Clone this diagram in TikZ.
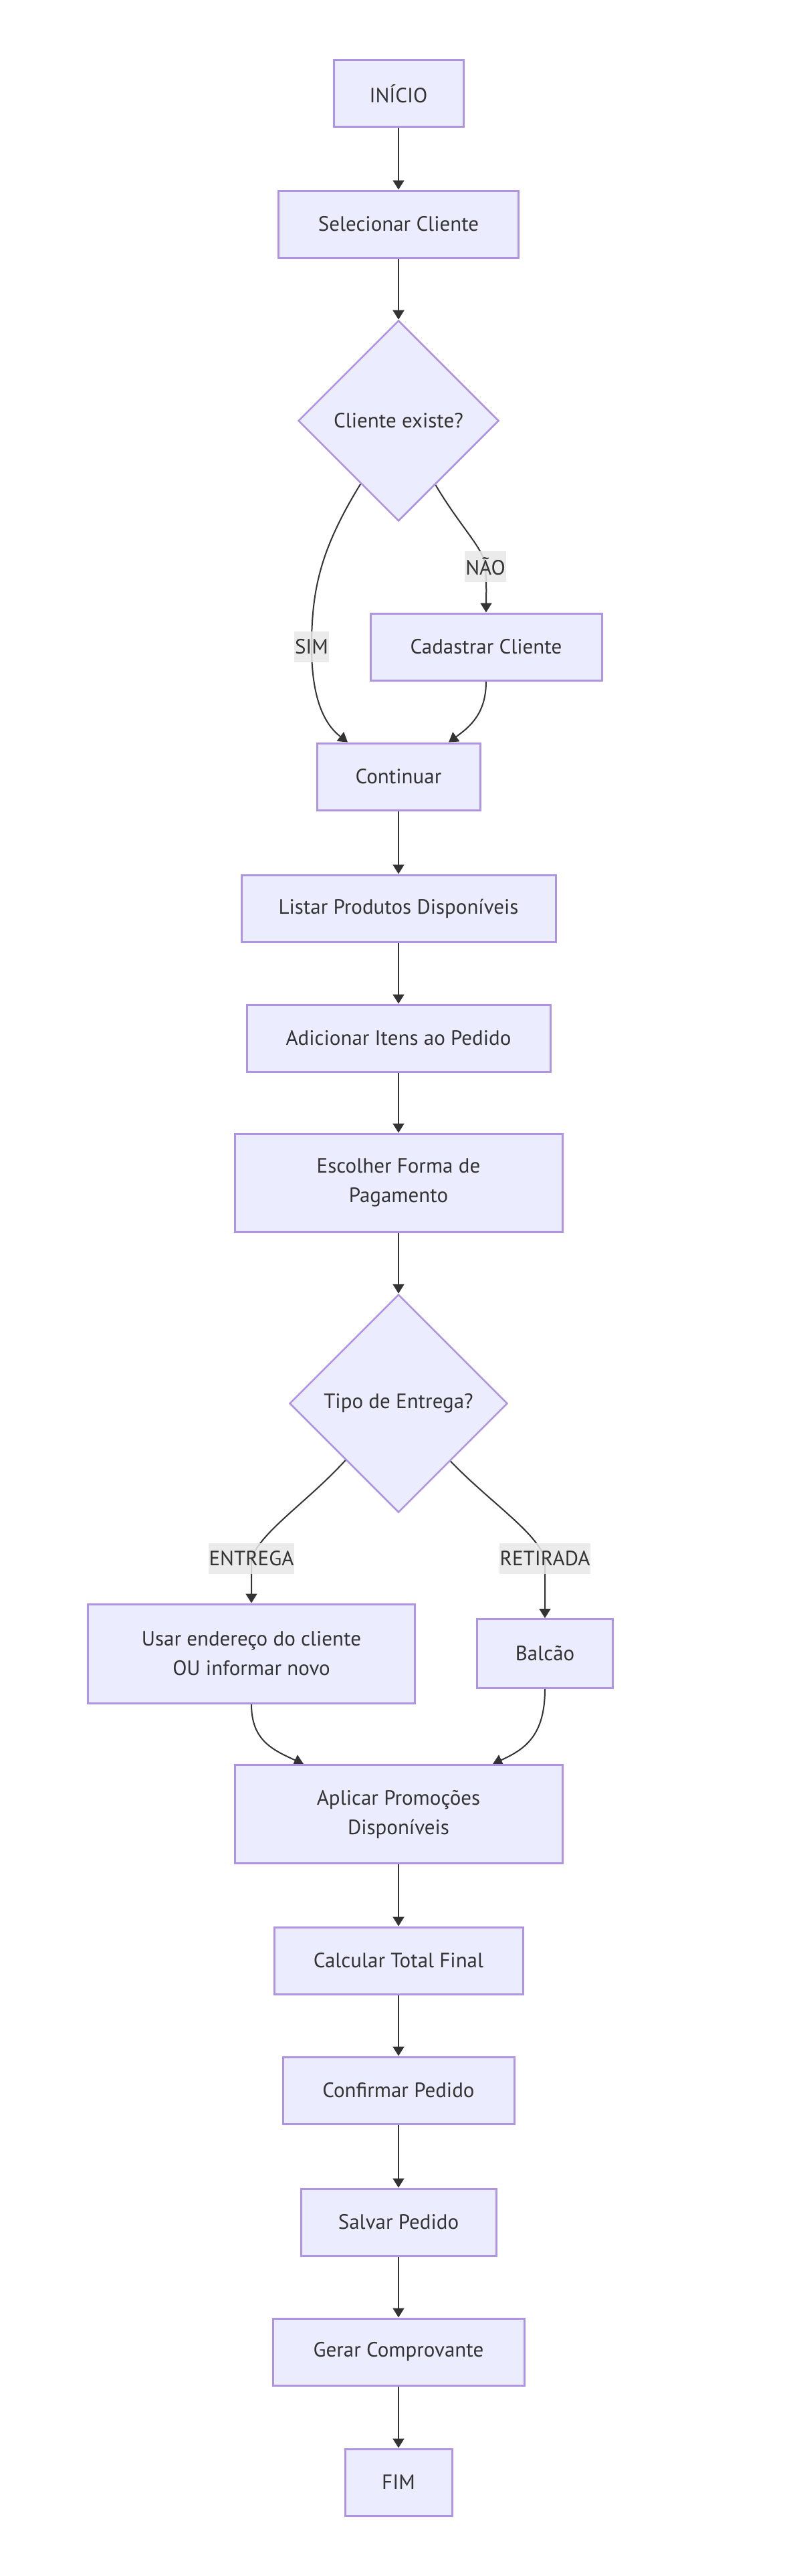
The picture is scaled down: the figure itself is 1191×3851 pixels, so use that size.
\documentclass[tikz,border=0pt]{standalone}
\usepackage{fontspec}
\setmainfont{PT Sans}
\usetikzlibrary{shapes.geometric,arrows.meta}
\definecolor{boxfill}{HTML}{ECECFF}
\definecolor{boxdraw}{HTML}{AE94E2}
\definecolor{txt}{HTML}{333333}
\definecolor{lblbg}{HTML}{E8E8E8}
\pgfdeclarelayer{bg}
\pgfsetlayers{bg,main}
\begin{document}
\begin{tikzpicture}[x=1pt,y=-1pt,
  box/.style={rectangle, draw=boxdraw, fill=boxfill, line width=3pt, text=txt,
    minimum height=100pt, align=center, inner sep=0pt, font=\fontsize{31}{44}\selectfont},
  dec/.style={diamond, aspect=1, draw=boxdraw, fill=boxfill, line width=2.5pt, text=txt,
    inner sep=0pt, font=\fontsize{31}{44}\selectfont},
  lbl/.style={fill=lblbg, fill opacity=0.85, text opacity=1, text=txt, inner xsep=1pt,
    inner ysep=0pt, minimum height=46pt, font=\fontsize{31}{44}\selectfont},
  edge/.style={draw=txt, line width=2pt, -{Triangle[length=14pt,width=17pt]}}]
\useasboundingbox (0,0) rectangle (1191,3851);
% nodes
\node[box, minimum width=194pt] (ini) at (596,140) {INÍCIO};
\node[box, minimum width=359pt] (sel) at (596,335) {Selecionar Cliente};
\node[dec, minimum width=300pt, minimum height=300pt] (d1) at (596,629) {Cliente existe?};
\node[box, minimum width=346pt] (cad) at (727,967) {Cadastrar Cliente};
\node[box, minimum width=244pt] (cont) at (596,1161) {Continuar};
\node[box, minimum width=470pt] (lst) at (596,1358) {Listar Produtos Disponíveis};
\node[box, minimum width=454pt] (add) at (596,1552) {Adicionar Itens ao Pedido};
\node[box, minimum width=490pt, minimum height=146pt] (esc) at (596,1768) {Escolher Forma de\\Pagamento};
\node[dec, minimum width=326pt, minimum height=326pt] (d2) at (596,2098) {Tipo de Entrega?};
\node[box, minimum width=489pt, minimum height=148pt] (usar) at (376,2472) {Usar endereço do cliente\\OU informar novo};
\node[box, minimum width=203pt, minimum height=103pt] (bal) at (815,2472) {Balcão};
\node[box, minimum width=490pt, minimum height=147pt] (apl) at (596,2712) {Aplicar Promoções\\Disponíveis};
\node[box, minimum width=372pt] (calc) at (596,2931) {Calcular Total Final};
\node[box, minimum width=346pt] (conf) at (596,3125) {Confirmar Pedido};
\node[box, minimum width=292pt] (salv) at (596,3322) {Salvar Pedido};
\node[box, minimum width=376pt] (ger) at (596,3516) {Gerar Comprovante};
\node[box, minimum width=160pt] (fim) at (596,3711) {FIM};
% edge labels
\node[lbl] (lsim) at (466,967) {SIM};
\node[lbl] (lnao) at (726,847) {NÃO};
\node[lbl] (lent) at (376,2330) {ENTREGA};
\node[lbl] (lret) at (815,2330) {RETIRADA};
% edges
\begin{pgfonlayer}{bg}
\fill[white] (0,0) rectangle (1191,3851);
\draw[edge] (ini) -- (sel);
\draw[edge] (sel) -- (d1);
\draw[edge] (d1.239) .. controls (480,820) and (466,880) .. (lsim.center) .. controls (466,1050) and (488,1085) .. ([xshift=-76pt]cont.north);
\draw[edge] (d1.300) .. controls (690,790) and (724,820) .. (lnao.center) .. controls (728,875) and (727,895) .. (cad.north);
\draw[edge] (cad.south) .. controls (727,1065) and (705,1085) .. ([xshift=75pt]cont.north);
\draw[edge] (cont) -- (lst);
\draw[edge] (lst) -- (add);
\draw[edge] (add) -- (esc);
\draw[edge] (esc) -- (d2);
\draw[edge] (d2.227.5) .. controls (460,2245) and (390,2290) .. (lent.center) .. controls (376,2360) and (376,2380) .. (usar.north);
\draw[edge] (d2.312.5) .. controls (732,2245) and (802,2290) .. (lret.center) .. controls (815,2360) and (815,2390) .. (bal.north);
\draw[edge] (usar.south) .. controls (376,2600) and (405,2615) .. ([xshift=-142pt]apl.north);
\draw[edge] (bal.south) .. controls (815,2595) and (785,2615) .. ([xshift=141pt]apl.north);
\draw[edge] (apl) -- (calc);
\draw[edge] (calc) -- (conf);
\draw[edge] (conf) -- (salv);
\draw[edge] (salv) -- (ger);
\draw[edge] (ger) -- (fim);
\end{pgfonlayer}
\end{tikzpicture}
\end{document}
